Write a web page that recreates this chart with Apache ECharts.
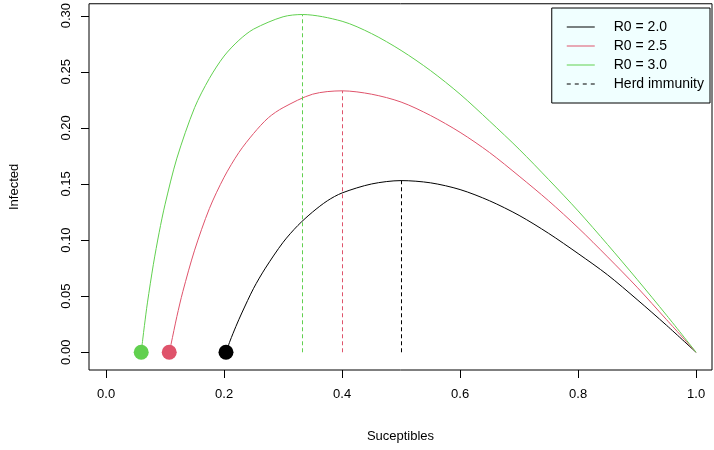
<!DOCTYPE html>
<html><head><meta charset="utf-8">
<script src="https://cdn.jsdelivr.net/npm/echarts@6/dist/echarts.min.js"></script>
<style>html,body{margin:0;background:#fff}#c{width:714px;height:450px}</style>
</head><body><div id="c"></div>
<script>
// values (S, I)
var r20 = [[0.2032,0],[0.21,0.010],[0.22,0.023],[0.23,0.035],[0.25,0.057],[0.27,0.075],[0.3,0.098],[0.325,0.113],[0.35,0.125],[0.375,0.135],[0.4,0.142],[0.45,0.150],[0.5,0.153],[0.55,0.151],[0.6,0.145],[0.65,0.135],[0.7,0.122],[0.75,0.106],[0.8,0.088],[0.85,0.069],[0.9,0.047],[0.95,0.024],[1,0]];
var r25 = [[0.107,0],[0.11,0.007],[0.12,0.032],[0.13,0.054],[0.15,0.091],[0.175,0.128],[0.2,0.156],[0.225,0.178],[0.25,0.195],[0.275,0.209],[0.3,0.218],[0.35,0.230],[0.4,0.233],[0.45,0.230],[0.5,0.223],[0.55,0.211],[0.6,0.196],[0.65,0.178],[0.7,0.157],[0.75,0.135],[0.8,0.111],[0.85,0.085],[0.9,0.058],[0.95,0.029],[1,0]];
var r30 = [[0.0595,0],[0.062,0.011],[0.065,0.024],[0.07,0.044],[0.08,0.078],[0.09,0.107],[0.1,0.132],[0.12,0.173],[0.15,0.218],[0.175,0.244],[0.2,0.264],[0.225,0.278],[0.25,0.288],[0.3,0.299],[0.333,0.301],[0.4,0.295],[0.45,0.284],[0.5,0.269],[0.55,0.251],[0.6,0.230],[0.65,0.206],[0.7,0.181],[0.75,0.154],[0.8,0.126],[0.85,0.096],[0.9,0.065],[0.95,0.033],[1,0]];
var herd = [[0.5,0.153],[0.4,0.233],[0.333,0.301]];
var names = ['R0 = 2.0','R0 = 2.5','R0 = 3.0'];
var colors = ['#000000','#DF536B','#61D04F'];
var xTicks = [0,0.2,0.4,0.6,0.8,1.0];
var yTicks = [0,0.05,0.1,0.15,0.2,0.25,0.3];
var xMin = -0.029, xMax = 1.027, yMin = -0.0158, yMax = 0.3106;

var solidIcon = 'path://M0,0H28V1H0Z';
var dashIcon = 'path://M0,0H4V1H0ZM8,0H12V1H8ZM16,0H20V1H16ZM24,0H28V1H24Z';

var curves = [r20,r25,r30];
var series = [];
curves.forEach(function(d,i){
  series.push({
    name: names[i], type:'line', data:d, smooth:0.3, symbol:'none',
    lineStyle:{color:colors[i],width:1}, itemStyle:{color:colors[i]},
    markLine:{silent:true,symbol:'none',label:{show:false},
      lineStyle:{color:colors[i],type:[4,3],width:1},
      data:[[{coord:[herd[i][0],0]},{coord:[herd[i][0],herd[i][1]]}]]}
  });
  series.push({type:'scatter', data:[d[0]], symbolSize:15, itemStyle:{color:colors[i],opacity:1}, z:5});
});
series.push({name:'Herd immunity',type:'line',data:[],symbol:'none',
  lineStyle:{color:'#000',width:1},itemStyle:{color:'#000'}});

var legendData = names.map(function(n,i){return {name:n,icon:solidIcon,itemStyle:{color:colors[i]}};});
legendData.push({name:'Herd immunity',icon:dashIcon,itemStyle:{color:'#000'}});

var chart = echarts.init(document.getElementById('c'));
chart.setOption({
  animation:false,
  textStyle:{fontFamily:'Liberation Sans, Arial, sans-serif'},
  grid:{left:86,right:2,top:2,bottom:80,show:true,borderColor:'#000',borderWidth:1},
  legend:{
    data:legendData,
    orient:'vertical', right:4, top:8, itemWidth:28, itemHeight:1, itemGap:5,
    backgroundColor:'#F0FFFF', borderColor:'#000', borderWidth:1, borderRadius:0,
    padding:[12,6,12,15],
    textStyle:{fontSize:14,color:'#000',padding:[0,0,0,14]}
  },
  xAxis:{type:'value',min:xMin,max:xMax,
    name:'Suceptibles',nameLocation:'middle',nameGap:60,nameTextStyle:{fontSize:13,color:'#000'},
    splitLine:{show:false},axisLine:{show:false,onZero:false},axisTick:{show:false},
    axisLabel:{customValues:xTicks,fontSize:13,color:'#000',margin:18,formatter:function(v){return v.toFixed(1);}}
  },
  yAxis:{type:'value',min:yMin,max:yMax,
    name:'Infected',nameLocation:'middle',nameGap:68,nameTextStyle:{fontSize:13,color:'#000'},
    splitLine:{show:false},axisLine:{show:false,onZero:false},axisTick:{show:false},
    axisLabel:{customValues:yTicks,fontSize:13,color:'#000',rotate:90,margin:16,formatter:function(v){return v.toFixed(2);}}
  },
  series:series
});

// tick marks outside the box, placed through the chart's own scales
var ticks = [];
xTicks.forEach(function(v){
  var p = chart.convertToPixel({gridIndex:0},[v,yMin]);
  ticks.push({type:'line',z:100,shape:{x1:Math.round(p[0])+0.5,y1:p[1],x2:Math.round(p[0])+0.5,y2:p[1]+8},style:{stroke:'#000',lineWidth:1}});
});
yTicks.forEach(function(v){
  var p = chart.convertToPixel({gridIndex:0},[xMin,v]);
  ticks.push({type:'line',z:100,shape:{x1:p[0],y1:Math.round(p[1])+0.5,x2:p[0]-8,y2:Math.round(p[1])+0.5},style:{stroke:'#000',lineWidth:1}});
});
chart.setOption({graphic:{elements:ticks}});
</script></body></html>
